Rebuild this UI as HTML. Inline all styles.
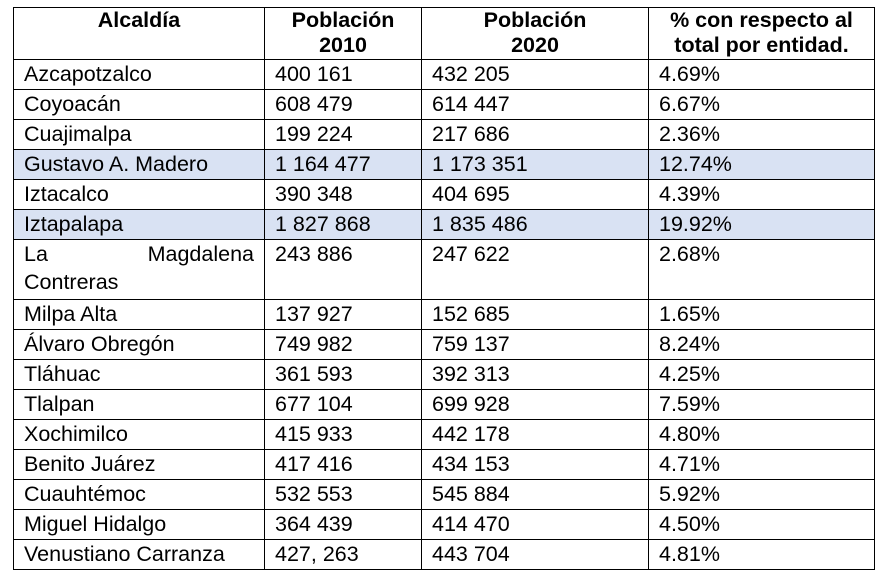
<!DOCTYPE html>
<html><head><meta charset="utf-8"><style>
body{margin:0;background:#fff;width:889px;height:580px;position:relative;overflow:hidden;font-family:"Liberation Sans",Arial,sans-serif;color:#000}
table{position:absolute;left:13px;top:7px;border-collapse:collapse;table-layout:fixed}
td,th{border:1.3px solid #000;padding:0 0 0 10px;font-size:21.5px;vertical-align:top;line-height:24px;padding-top:2px;overflow:hidden;white-space:nowrap}
th{font-weight:bold;text-align:center;padding:0;line-height:25px;font-size:21.5px}
tr{height:30px}
tr.h{height:52px}
tr.b td{background:#d9e2f3}
tr.m{height:60px}
tr.m td{line-height:28px;padding-top:0}
.j{display:flex;justify-content:space-between;padding-right:10px}
</style></head><body>
<table>
<colgroup><col style="width:251px"><col style="width:157px"><col style="width:227px"><col style="width:226px"></colgroup>
<tr class="h"><th>Alcaldía</th><th>Población<br>2010</th><th>Población<br>2020</th><th>% con respecto al<br>total por entidad.</th></tr>
<tr><td>Azcapotzalco</td><td>400 161</td><td>432 205</td><td>4.69%</td></tr>
<tr><td>Coyoacán</td><td>608 479</td><td>614 447</td><td>6.67%</td></tr>
<tr><td>Cuajimalpa</td><td>199 224</td><td>217 686</td><td>2.36%</td></tr>
<tr class="b"><td>Gustavo A. Madero</td><td>1 164 477</td><td>1 173 351</td><td>12.74%</td></tr>
<tr><td>Iztacalco</td><td>390 348</td><td>404 695</td><td>4.39%</td></tr>
<tr class="b"><td>Iztapalapa</td><td>1 827 868</td><td>1 835 486</td><td>19.92%</td></tr>
<tr class="m"><td><div class="j"><span>La</span><span>Magdalena</span></div>Contreras</td><td>243 886</td><td>247 622</td><td>2.68%</td></tr>
<tr><td>Milpa Alta</td><td>137 927</td><td>152 685</td><td>1.65%</td></tr>
<tr><td>Álvaro Obregón</td><td>749 982</td><td>759 137</td><td>8.24%</td></tr>
<tr><td>Tláhuac</td><td>361 593</td><td>392 313</td><td>4.25%</td></tr>
<tr><td>Tlalpan</td><td>677 104</td><td>699 928</td><td>7.59%</td></tr>
<tr><td>Xochimilco</td><td>415 933</td><td>442 178</td><td>4.80%</td></tr>
<tr><td>Benito Juárez</td><td>417 416</td><td>434 153</td><td>4.71%</td></tr>
<tr><td>Cuauhtémoc</td><td>532 553</td><td>545 884</td><td>5.92%</td></tr>
<tr><td>Miguel Hidalgo</td><td>364 439</td><td>414 470</td><td>4.50%</td></tr>
<tr><td>Venustiano Carranza</td><td>427, 263</td><td>443 704</td><td>4.81%</td></tr>
</table>
</body></html>
